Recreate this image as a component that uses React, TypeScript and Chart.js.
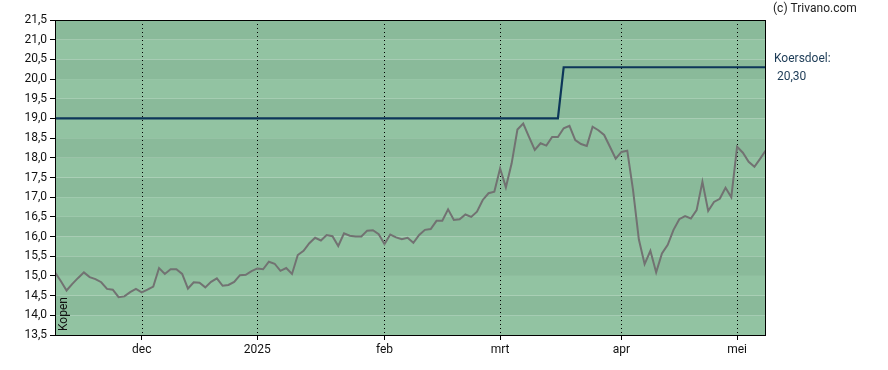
import React, { useEffect, useRef } from "react";
import { Chart, registerables } from "chart.js";

Chart.register(...registerables);

// Trading-day index based data (Nov 2024 – May 2025)
const prices: number[] = [
  15.09, 14.87, 14.63, 14.80, 14.95, 15.09, 14.97, 14.92, 14.84, 14.67,
  14.65, 14.46, 14.48, 14.59, 14.67, 14.58, 14.65, 14.73, 15.20, 15.05,
  15.17, 15.17, 15.05, 14.68, 14.84, 14.83, 14.71, 14.85, 14.94, 14.75,
  14.77, 14.85, 15.02, 15.03, 15.12, 15.19, 15.17, 15.36, 15.31, 15.13,
  15.20, 15.05, 15.53, 15.64, 15.83, 15.97, 15.90, 16.04, 16.01, 15.76,
  16.08, 16.02, 16.00, 16.00, 16.15, 16.16, 16.06, 15.81, 16.05, 15.98,
  15.93, 15.97, 15.84, 16.04, 16.17, 16.19, 16.40, 16.40, 16.69, 16.42,
  16.44, 16.56, 16.50, 16.63, 16.93, 17.10, 17.14, 17.73, 17.25, 17.86,
  18.72, 18.87, 18.53, 18.20, 18.37, 18.31, 18.53, 18.53, 18.75, 18.81,
  18.45, 18.35, 18.30, 18.79, 18.70, 18.58, 18.28, 17.98, 18.15, 18.18,
  17.18, 15.93, 15.30, 15.64, 15.09, 15.57, 15.79, 16.17, 16.44, 16.52,
  16.46, 16.67, 17.39, 16.65, 16.88, 16.96, 17.24, 17.00, 18.28, 18.13,
  17.90, 17.77, 17.98, 18.20,
];

const targetIdx: number[] = [0, 87, 88, 123];
const targetVal: number[] = [19.0, 19.0, 20.3, 20.3];

const monthTickIdx: number[] = [15, 35, 57, 77, 98, 118];
const monthLabels: string[] = ["dec", "2025", "feb", "mrt", "apr", "mei"];

const yMin = 13.5;
const yMax = 21.5;
const yStep = 0.5;

const targetLabelTitle = "Koersdoel:";
const targetLabelValue = "20,30";
const copyright = "(c) Trivano.com";
const adviceLabel = "Kopen";

const fmt = (v: number) => v.toFixed(1).replace(".", ",");

export default function App() {
  const ref = useRef<HTMLCanvasElement | null>(null);

  useEffect(() => {
    document.body.style.margin = "0";
    const canvas = ref.current;
    if (!canvas) return;

    const decorPlugin = {
      id: "decor",
      beforeDatasetsDraw(chart: any) {
        const { ctx, chartArea } = chart;
        const y = chart.scales.y;
        const x = chart.scales.x;
        ctx.save();
        let i = 0;
        for (let v = yMin; v < yMax - 1e-9; v += yStep, i++) {
          const top = y.getPixelForValue(v + yStep);
          const bot = y.getPixelForValue(v);
          ctx.fillStyle = i % 2 === 0 ? "#92c3a2" : "#8aba9a";
          ctx.fillRect(chartArea.left, top, chartArea.right - chartArea.left, bot - top);
        }
        ctx.strokeStyle = "#000";
        ctx.lineWidth = 1;
        ctx.setLineDash([1, 3]);
        for (const t of monthTickIdx) {
          const px = Math.round(x.getPixelForValue(t)) + 0.5;
          ctx.beginPath();
          ctx.moveTo(px, chartArea.top);
          ctx.lineTo(px, chartArea.bottom);
          ctx.stroke();
        }
        ctx.restore();
      },
      afterDraw(chart: any) {
        const { ctx, chartArea } = chart;
        ctx.save();
        ctx.strokeStyle = "#000";
        ctx.lineWidth = 1;
        ctx.strokeRect(
          Math.round(chartArea.left) + 0.5,
          Math.round(chartArea.top) + 0.5,
          Math.round(chartArea.right - chartArea.left) - 1,
          Math.round(chartArea.bottom - chartArea.top)
        );
        ctx.font = "12px Roboto";
        ctx.textBaseline = "middle";
        ctx.textAlign = "left";
        ctx.fillStyle = "#222";
        ctx.fillText(copyright, 773, 9);
        ctx.fillStyle = "#1b3a55";
        ctx.fillText(targetLabelTitle, 774, 59);
        ctx.fillText(" " + targetLabelValue, 774, 77);
        // rotated advice label
        ctx.fillStyle = "#111";
        ctx.translate(chartArea.left + 9, chartArea.bottom - 4);
        ctx.rotate(-Math.PI / 2);
        ctx.textAlign = "left";
        ctx.textBaseline = "middle";
        ctx.fillText(adviceLabel, 0, 0);
        ctx.restore();
      },
    };

    const chart = new Chart(canvas, {
      type: "line",
      data: {
        datasets: [
          {
            label: "Koers",
            data: prices.map((v, i) => ({ x: i, y: v })),
            borderColor: "#727272",
            borderWidth: 2,
            pointRadius: 0,
            tension: 0,
            order: 2,
          },
          {
            label: "Koersdoel",
            data: targetIdx.map((x, i) => ({ x, y: targetVal[i] })),
            borderColor: "#0d3659",
            borderWidth: 2.2,
            pointRadius: 0,
            tension: 0,
            order: 1,
          },
        ],
      },
      options: {
        animation: false,
        responsive: false,
        maintainAspectRatio: false,
        devicePixelRatio: 1,
        layout: { padding: { left: 0, top: 20, right: 122, bottom: 0 } },
        plugins: {
          legend: { display: false },
          tooltip: { enabled: false },
        },
        scales: {
          x: {
            type: "linear",
            min: 0,
            max: prices.length - 1,
            afterBuildTicks: (scale: any) => {
              scale.ticks = monthTickIdx.map((v) => ({ value: v }));
            },
            afterFit: (scale: any) => {
              scale.height = 35;
            },
            ticks: {
              autoSkip: false,
              maxRotation: 0,
              color: "#111",
              font: { family: "Roboto", size: 12 },
              padding: 3,
              callback: (v: any) => {
                const k = monthTickIdx.indexOf(Number(v));
                return k >= 0 ? monthLabels[k] : "";
              },
            },
            grid: {
              drawOnChartArea: false,
              drawTicks: true,
              tickLength: 5,
              color: "#000",
            },
            border: { display: false },
          },
          y: {
            type: "linear",
            min: yMin,
            max: yMax,
            afterFit: (scale: any) => {
              scale.width = 55;
            },
            ticks: {
              stepSize: yStep,
              color: "#111",
              font: { family: "Roboto", size: 12 },
              padding: 3,
              callback: (v: any) => fmt(Number(v)),
            },
            grid: {
              drawOnChartArea: false,
              drawTicks: true,
              tickLength: 5,
              color: "#000",
            },
            border: { display: false },
          },
        },
      },
      plugins: [decorPlugin],
    } as any);

    return () => chart.destroy();
  }, []);

  return (
    <div style={{ position: "absolute", left: 0, top: 0, width: 888, height: 370 }}>
      <canvas ref={ref} width={888} height={370} style={{ width: 888, height: 370 }} />
    </div>
  );
}
